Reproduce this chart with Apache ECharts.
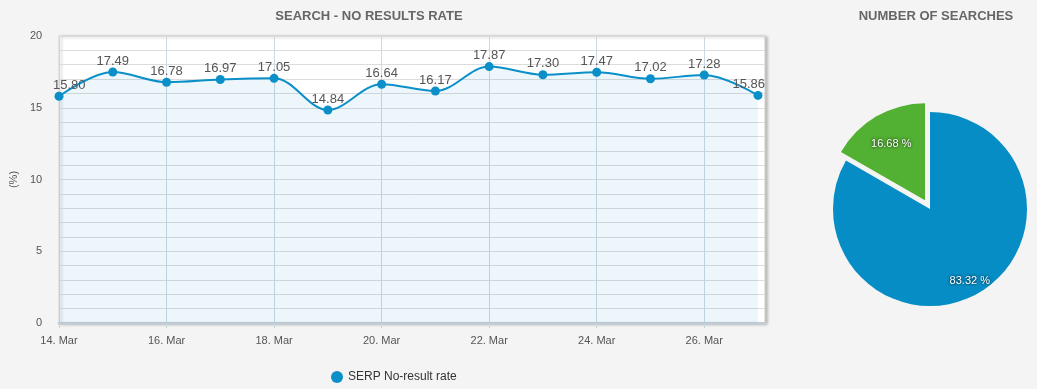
<!DOCTYPE html>
<html><head><meta charset="utf-8">
<script src="https://cdn.jsdelivr.net/npm/echarts@6/dist/echarts.min.js"></script>
<style>html,body{margin:0;padding:0;background:#f4f4f4}#c{width:1037px;height:389px}</style>
</head><body><div id="c"></div>
<script>
const days = ['14. Mar','15. Mar','16. Mar','17. Mar','18. Mar','19. Mar','20. Mar','21. Mar','22. Mar','23. Mar','24. Mar','25. Mar','26. Mar','27. Mar'];
const noResultRate = [15.80,17.49,16.78,16.97,17.05,14.84,16.64,16.17,17.87,17.30,17.47,17.02,17.28,15.86];
const pieNames = ['Searches with results','Searches without results'];
const pieValues = [83.32,16.68];
const yTicks = [0,5,10,15,20];

const FONT = '"Liberation Sans Narrow","Liberation Sans",Arial,sans-serif';
const PLOT_LEFT = 53, PLOT_RIGHT = 765;
const pieLabelShift = [{dx:14,dy:27},{dx:-8,dy:-12}];
const chart = echarts.init(document.getElementById('c'));
chart.setOption({
  backgroundColor:'#f4f4f4',
  animation:false,
  title:[
    {text:'SEARCH - NO RESULTS RATE',left:364,top:5,textAlign:'center',
     textStyle:{fontSize:13,fontWeight:'bold',color:'#666',fontFamily:'"Liberation Sans",Arial,sans-serif'}},
    {text:'NUMBER OF SEARCHES',left:931,top:5,textAlign:'center',
     textStyle:{fontSize:13,fontWeight:'bold',color:'#666',fontFamily:'"Liberation Sans",Arial,sans-serif'}}
  ],
  legend:{data:['SERP No-result rate'],left:326,top:366,icon:'circle',itemWidth:12,itemHeight:12,itemGap:6,
    textStyle:{fontSize:12,color:'#333',fontFamily:FONT}},
  grid:[
    {left:PLOT_LEFT,right:1037-PLOT_RIGHT,top:36,bottom:66,show:true,backgroundColor:'#fff',borderColor:'#d0d0d0',borderWidth:1,
     shadowColor:'rgba(0,0,0,0.25)',shadowBlur:3,shadowOffsetX:2,shadowOffsetY:1},
    {left:59,right:279,top:36,bottom:66}
  ],
  xAxis:[
    {gridIndex:0,type:'value',min:0,max:1,axisLabel:{show:false},axisTick:{show:false},splitLine:{show:false},
     axisLine:{show:true,lineStyle:{color:'#c5ccd3',width:3}}},
    {gridIndex:1,type:'category',data:days,boundaryGap:false,
     axisLine:{show:false},
     axisTick:{show:true,interval:1,length:5,lineStyle:{color:'#c8d4dc'}},
     axisLabel:{interval:1,color:'#555',fontSize:11,margin:12,fontFamily:FONT},
     splitLine:{show:true,interval:1,lineStyle:{color:'#cdd8e0',width:1}}}
  ],
  yAxis:[
    {gridIndex:0,type:'value',min:0,max:20,interval:1,name:'(%)',nameLocation:'middle',nameGap:38,
     nameTextStyle:{color:'#555',fontSize:11,fontFamily:FONT},
     axisLine:{show:false},axisTick:{show:false},
     axisLabel:{color:'#555',fontSize:11,margin:17,fontFamily:FONT,
       formatter:v=>yTicks.indexOf(v)>=0?String(v):''},
     splitLine:{show:true,lineStyle:{color:'#dcdcdc',width:1}}},
    {gridIndex:1,type:'value',min:0,max:20,show:false,splitLine:{show:false}}
  ],
  series:[
    {name:'SERP No-result rate',type:'line',xAxisIndex:1,yAxisIndex:1,data:noResultRate,smooth:0.35,
     symbol:'circle',symbolSize:9,
     lineStyle:{color:'#0a8fc8',width:2},itemStyle:{color:'#0a8fc8'},
     areaStyle:{color:'rgba(10,143,204,0.11)'},
     label:{show:true,position:'top',distance:0,color:'#555',fontSize:13,fontFamily:'"Liberation Sans",Arial,sans-serif',
       formatter:p=>p.value.toFixed(2)},
     labelLayout:function(p){
       const r=p.labelRect; let dx=0;
       if(r.x<PLOT_LEFT) dx=PLOT_LEFT-r.x;
       if(r.x+r.width>PLOT_RIGHT) dx=PLOT_RIGHT-(r.x+r.width);
       return {dx:dx};
     },
     emphasis:{disabled:true}},
    {name:'Number of searches',type:'pie',center:[930,209],radius:97,startAngle:90,clockwise:true,
     selectedMode:'single',selectedOffset:10,
     data:[
       {name:pieNames[0],value:pieValues[0],itemStyle:{color:'#068dc6'}},
       {name:pieNames[1],value:pieValues[1],selected:true,itemStyle:{color:'#52b033'}}
     ],
     label:{show:true,position:'inside',color:'#fff',fontSize:11,fontFamily:FONT,
       textShadowColor:'#000',textShadowBlur:3,
       formatter:p=>p.value.toFixed(2)+' %'},
     labelLayout:function(p){ return pieLabelShift[p.dataIndex]; },
     labelLine:{show:false},
     emphasis:{disabled:true}}
  ]
});
</script></body></html>
